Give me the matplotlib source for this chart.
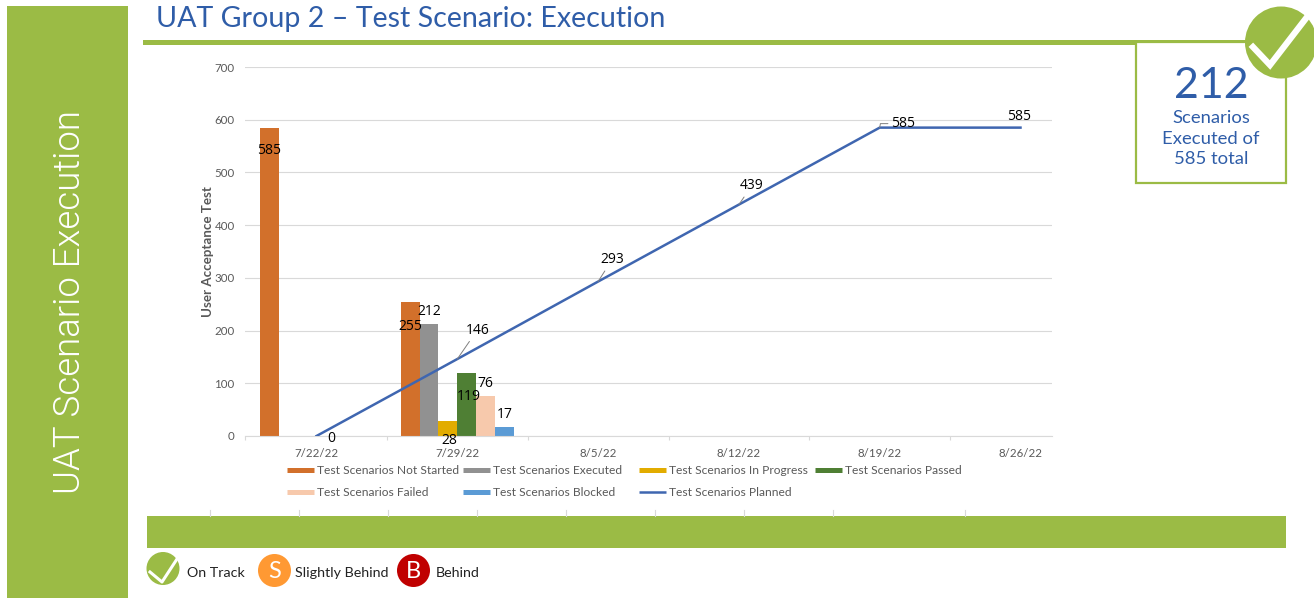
import matplotlib
matplotlib.use("Agg")
import matplotlib.pyplot as plt
from matplotlib.patches import Rectangle, Circle
from matplotlib.lines import Line2D

W, H = 1314, 598
FONT = ["Lato", "DejaVu Sans"]
plt.rcParams["font.family"] = FONT

dates = ["7/22/22", "7/29/22", "8/5/22", "8/12/22", "8/19/22", "8/26/22"]
not_started = [585, 255]
executed = [None, 212]
in_progress = [None, 28]
passed = [None, 119]
failed = [None, 76]
blocked = [None, 17]
planned = [0, 146, 293, 439, 585, 585]
planned_name = "Test Scenarios Planned"

GREEN = "#9BBB45"
BLUE = "#2F5DA8"
LINE = "#3F66B0"
series = [
    ("Test Scenarios Not Started", not_started, "#D2702B"),
    ("Test Scenarios Executed", executed, "#919191"),
    ("Test Scenarios In Progress", in_progress, "#E2AC00"),
    ("Test Scenarios Passed", passed, "#4F7F34"),
    ("Test Scenarios Failed", failed, "#F7C9AC"),
    ("Test Scenarios Blocked", blocked, "#5B9BD5"),
]

fig = plt.figure(figsize=(W / 100, H / 100), dpi=100, facecolor="white")

# page furniture in pixel coordinates
bg = fig.add_axes([0, 0, 1, 1])
bg.set_xlim(0, W)
bg.set_ylim(H, 0)
bg.axis("off")
bg.add_patch(Rectangle((7, 6), 121, 592, color=GREEN, lw=0))
bg.text(70, 302, "UAT Scenario Execution", rotation=90, color="white",
        fontsize=26.4, ha="center", va="center", family=["Roboto", "DejaVu Sans"], fontweight=300)
bg.text(156, 19.5, "UAT Group 2 \u2013 Test Scenario: Execution", color=BLUE,
        fontsize=20.6, ha="left", va="center")
bg.add_patch(Rectangle((143, 40), 1130, 4.5, color=GREEN, lw=0))
bg.add_patch(Rectangle((1136, 42), 150, 141, fc="white", ec=GREEN, lw=1.6))
bg.text(1211, 86, "212", color=BLUE, fontsize=31, ha="center", va="center")
for y, s in zip((118, 139, 159), ("Scenarios", "Executed of", "585 total")):
    bg.text(1211, y, s, color=BLUE, fontsize=13.3, ha="center", va="center")
bg.add_patch(Circle((1281, 42.5), 36, color=GREEN, lw=0))
bg.add_line(Line2D([1253, 1270, 1307], [47, 65, 17], color="white", lw=4.5,
                   solid_joinstyle="miter"))
bg.add_patch(Rectangle((147, 516), 1139, 32, color=GREEN, lw=0))
for x in (210, 299, 388, 477, 566, 655, 744, 833, 965):
    bg.add_line(Line2D([x, x], [510, 516], color="#D9D9D9", lw=0.8))
bg.add_patch(Circle((163, 568.5), 16.5, color=GREEN, lw=0))
bg.add_line(Line2D([150, 162, 177], [572, 582, 559], color="white", lw=2.2))
bg.text(187, 573, "On Track", fontsize=10.3, color="#222222", va="center")
bg.add_patch(Circle((274.5, 570.5), 16.5, color="#FF9933", lw=0))
bg.text(274.5, 571.5, "S", fontsize=17, color="white", ha="center", va="center")
bg.text(295, 573, "Slightly Behind", fontsize=10.3, color="#222222", va="center")
bg.add_patch(Circle((413.5, 570.5), 16.5, color="#C00000", lw=0))
bg.text(413.5, 571.5, "B", fontsize=17, color="white", ha="center", va="center")
bg.text(436, 573, "Behind", fontsize=10.3, color="#222222", va="center")

# chart
left, right, top, bottom = 245, 1052, 67, 436
step = 140.8
ax = fig.add_axes([left / W, 1 - bottom / H, (right - left) / W, (bottom - top) / H])
ax.patch.set_alpha(0)
positions = list(range(len(dates)))
x0 = -(316.5 - left) / step
ax.set_xlim(x0, x0 + (right - left) / step)
ax.set_ylim(0, 700)
bar_w = 0.134
for i, (label, vals, color) in enumerate(series):
    xs = [p for p, v in zip(positions, vals) if v is not None]
    ys = [v for v in vals if v is not None]
    ax.bar([x + (i - 2.5) * bar_w for x in xs], ys, width=bar_w, color=color,
           label=label, zorder=2)
ax.plot(positions, planned, color=LINE, lw=1.8, label=planned_name, zorder=3)

ax.set_xticks(positions, dates)
ax.set_xticks([p + 0.5 for p in positions[:-1]] + [x0], minor=True)
ax.set_yticks(range(0, 701, 100))
ax.grid(axis="y", color="#D9D9D9", lw=0.8, zorder=0)
ax.set_axisbelow(True)
for s in ("top", "right", "left"):
    ax.spines[s].set_visible(False)
ax.spines["bottom"].set_color("#D9D9D9")
ax.tick_params(axis="y", length=0, labelsize=8.3, labelcolor="#595959", pad=7.5)
ax.tick_params(axis="x", which="major", length=0, labelsize=8.3, labelcolor="#595959", pad=8.5)
ax.tick_params(axis="x", which="minor", length=3, color="#D9D9D9", width=0.8)
ax.set_ylabel("User Acceptance Test", fontsize=9.6, fontweight="bold", color="#595959", labelpad=0.5)

LBL = dict(fontsize=10, color="black", ha="center", va="center",
           family=["Open Sans", "DejaVu Sans"], zorder=5,
           xycoords="data", textcoords="offset pixels")


def bar_x(p, i):
    return p + (i - 2.5) * bar_w


bar_labels = [
    (0, 0, not_started[0], 0, -23), (1, 0, not_started[1], 0, -25),
    (1, 1, executed[1], 0, 13), (1, 2, in_progress[1], 1, -19),
    (1, 3, passed[1], 2, -23), (1, 4, failed[1], 0, 12), (1, 5, blocked[1], 0, 13),
]
for p, i, v, dx, dy in bar_labels:
    ax.annotate(str(v), xy=(bar_x(p, i), v), xytext=(dx, dy), annotation_clip=False, **LBL)

line_offsets = [(15, -3), (20, 29), (14, 22), (13, 19), (23, 4), (-1, 11)]
for p, (v, (dx, dy)) in enumerate(zip(planned, line_offsets)):
    arrow = None
    if p in (1, 2, 3):
        arrow = dict(arrowstyle="-", color="#7F7F7F", lw=0.7, shrinkA=1, shrinkB=0)
    elif p == 4:
        arrow = dict(arrowstyle="-", color="#7F7F7F", lw=0.7, shrinkA=0, shrinkB=0,
                     connectionstyle="angle,angleA=0,angleB=80,rad=0")
    ax.annotate(str(v), xy=(p, v), xytext=(dx, dy), annotation_clip=False,
                arrowprops=arrow, **LBL)

# legend
rows = [(470, [0, 1, 2, 3]), (492, [4, 5, 6])]
xpos = [287, 463, 639, 815]
names = [s[0] for s in series] + [planned_name]
colors = [s[2] for s in series] + [LINE]
for y, idxs in rows:
    for col, idx in enumerate(idxs):
        x = xpos[col]
        bg.add_line(Line2D([x, x + 27], [y, y], color=colors[idx],
                           lw=3.6 if idx < 6 else 1.8, solid_capstyle="butt"))
        bg.text(x + 30, y, names[idx], fontsize=8.65, color="#595959", va="center")

fig.savefig("out.png", dpi=100)
